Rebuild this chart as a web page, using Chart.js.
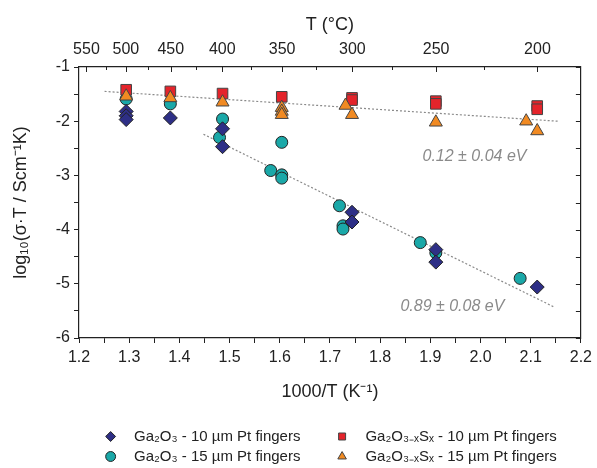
<!DOCTYPE html>
<html>
<head>
<meta charset="utf-8">
<script src="https://cdn.jsdelivr.net/npm/chart.js@4"></script>
<style>
  html, body { margin: 0; padding: 0; background: #fff; }
</style>
</head>
<body>
<canvas id="chart1" width="597" height="468"></canvas>
<script>
// --- data ---
var seriesLabels = [
  'Ga₂O₃ - 10 µm Pt fingers',
  'Ga₂O₃₋ₓSₓ - 10 µm Pt fingers',
  'Ga₂O₃ - 15 µm Pt fingers',
  'Ga₂O₃₋ₓSₓ - 15 µm Pt fingers'
];

// Ga2O3 10 um (diamonds)
var ga10x = [1.294, 1.294, 1.294, 1.382, 1.486, 1.486, 1.744, 1.744, 1.911, 1.911, 2.113];
var ga10y = [-1.82, -1.90, -1.97, -1.94, -2.14, -2.47, -3.68, -3.86, -4.37, -4.60, -5.06];

// Ga2O3-xSx 10 um (squares)
var gs10x = [1.294, 1.382, 1.486, 1.604, 1.744, 1.744, 1.911, 1.911, 2.113, 2.113];
var gs10y = [-1.42, -1.45, -1.49, -1.55, -1.57, -1.61, -1.63, -1.68, -1.72, -1.78];

// Ga2O3 15 um (circles)
var ga15x = [1.294, 1.382, 1.486, 1.480, 1.582, 1.604, 1.604, 1.604, 1.719, 1.726, 1.726, 1.880, 1.911, 2.079];
var ga15y = [-1.59, -1.68, -1.96, -2.30, -2.91, -2.39, -2.99, -3.05, -3.56, -3.93, -3.99, -4.24, -4.43, -4.90];

// Ga2O3-xSx 15 um (triangles)
var gs15x = [1.294, 1.382, 1.486, 1.604, 1.604, 1.604, 1.731, 1.744, 1.911, 2.091, 2.113];
var gs15y = [-1.54, -1.57, -1.65, -1.75, -1.82, -1.88, -1.71, -1.88, -2.02, -2.00, -2.18];

// Arrhenius fit lines (end points)
var fitSx = [1.251, 2.154];
var fitSy = [-1.45, -2.00];
var fitOx = [1.448, 2.147];
var fitOy = [-2.24, -5.43];

// activation energy labels
var eaText = ['0.12 ± 0.04 eV', '0.89 ± 0.08 eV'];
var eaX = [1.988, 1.944];
var eaY = [-2.66, -5.42];

// top axis temperatures (°C)
var topTemps = [550, 525, 500, 475, 450, 425, 400, 375, 350, 325, 300, 275, 250, 225, 200];

function pts(xs, ys) {
  return xs.map(function (x, i) { return {x: x, y: ys[i]}; });
}

// inward ticks on top/right axes + the Ea labels
var insideTicks = {
  id: 'insideTicks',
  afterDraw: function (chart) {
    var ctx = chart.ctx;
    var a = chart.chartArea;
    var top = chart.scales.xTop;
    var right = chart.scales.yRight;
    ctx.save();
    ctx.strokeStyle = '#222';
    ctx.lineWidth = 1;
    ctx.beginPath();
    top.ticks.forEach(function (t, i) {
      var x = Math.round(top.getPixelForValue(t.value)) + 0.5;
      var len = topTemps[i] % 50 === 0 ? 5 : 3;
      ctx.moveTo(x, a.top);
      ctx.lineTo(x, a.top + len);
    });
    right.ticks.forEach(function (t) {
      var y = Math.round(right.getPixelForValue(t.value)) + 0.5;
      ctx.moveTo(a.right, y);
      ctx.lineTo(a.right - 5, y);
    });
    ctx.stroke();

    var xs = chart.scales.x, ys = chart.scales.y;
    ctx.font = 'italic 16px "Liberation Sans", Arial, sans-serif';
    ctx.fillStyle = '#8a8a8a';
    ctx.textAlign = 'center';
    ctx.textBaseline = 'middle';
    eaText.forEach(function (t, i) {
      ctx.fillText(t, xs.getPixelForValue(eaX[i]), ys.getPixelForValue(eaY[i]));
    });
    ctx.restore();
  }
};

var font = '"Liberation Sans", Arial, sans-serif';
Chart.defaults.font.family = font;
Chart.defaults.color = '#222';

var chart1 = new Chart('chart1', {
  type: 'scatter',
  plugins: [insideTicks],
  data: {
    datasets: [
      {label: seriesLabels[0], data: pts(ga10x, ga10y), pointStyle: 'rectRot', pointRadius: 7,
        backgroundColor: '#2e2f86', borderColor: '#222', borderWidth: 1, order: 2},
      {label: seriesLabels[1], data: pts(gs10x, gs10y), pointStyle: 'rect', pointRadius: 7.5,
        backgroundColor: '#e4242b', borderColor: '#444', borderWidth: 1, order: 3},
      {label: seriesLabels[2], data: pts(ga15x, ga15y), pointStyle: 'circle', pointRadius: 6,
        backgroundColor: '#1aa8a8', borderColor: '#222', borderWidth: 1, order: 4},
      {label: seriesLabels[3], data: pts(gs15x, gs15y), pointStyle: 'triangle', pointRadius: 7.5,
        backgroundColor: '#f18a22', borderColor: '#444', borderWidth: 1, order: 1},
      {label: 'fit', type: 'line', data: pts(fitSx, fitSy), borderColor: '#8a8a8a', borderWidth: 1.2,
        borderDash: [2, 2], pointRadius: 0, order: 10},
      {label: 'fit', type: 'line', data: pts(fitOx, fitOy), borderColor: '#8a8a8a', borderWidth: 1.2,
        borderDash: [2, 2], pointRadius: 0, order: 10}
    ]
  },
  options: {
    responsive: false,
    animation: false,
    layout: {padding: 0},
    plugins: {
      tooltip: {enabled: false},
      legend: {
        position: 'bottom',
        fullSize: false,
        maxHeight: 44,
        labels: {
          usePointStyle: true,
          boxWidth: 15,
          boxHeight: 7,
          padding: 5,
          color: '#222',
          font: {size: 15},
          filter: function (item) { return item.text !== 'fit'; },
          sort: function (a, b) { return a.datasetIndex - b.datasetIndex; },
          generateLabels: function (chart) {
            var items = Chart.defaults.plugins.legend.labels.generateLabels(chart);
            items.forEach(function (it) {
              if (it.text === 'fit') return;
              it.text = '  ' + it.text + (it.datasetIndex % 2 === 0 ? '       ' : '');
            });
            return items;
          }
        }
      }
    },
    scales: {
      x: {
        type: 'linear', position: 'bottom', min: 1.2, max: 2.2,
        afterFit: function (s) { s.height = 86; },
        ticks: {
          stepSize: 0.05, autoSkip: false, maxRotation: 0, padding: 5,
          font: {size: 16}, color: '#222',
          callback: function (v) {
            return Math.abs(v * 10 - Math.round(v * 10)) < 1e-6 ? v.toFixed(1) : '';
          }
        },
        grid: {drawOnChartArea: false, tickLength: 5, color: '#222'},
        border: {color: '#222', width: 1.2},
        title: {display: true, text: '1000/T (K⁻¹)', font: {size: 18}, color: '#222',
          padding: {top: 4, bottom: 21}}
      },
      xTop: {
        type: 'linear', position: 'top', min: 1.2, max: 2.2,
        afterFit: function (s) { s.height = 67; },
        afterBuildTicks: function (s) {
          s.ticks = topTemps.map(function (t) { return {value: 1000 / (t + 273.15)}; });
        },
        ticks: {
          autoSkip: false, maxRotation: 0, padding: 8, font: {size: 16}, color: '#222',
          callback: function (v, i) { return topTemps[i] % 50 === 0 ? String(topTemps[i]) : ''; }
        },
        grid: {drawOnChartArea: false, drawTicks: false},
        border: {color: '#222', width: 1.2},
        title: {display: true, text: 'T (°C)', font: {size: 18}, color: '#222',
          padding: {top: 14, bottom: 0}}
      },
      y: {
        type: 'linear', position: 'left', min: -6, max: -1,
        afterFit: function (s) { s.width = 79; },
        ticks: {
          stepSize: 0.5, autoSkip: false, padding: 4, font: {size: 16}, color: '#222',
          callback: function (v) { return Number.isInteger(v) ? String(v) : ''; }
        },
        grid: {drawOnChartArea: false, tickLength: 5, color: '#222'},
        border: {color: '#222', width: 1.2},
        title: {display: true, text: 'log₁₀(σ·T / Scm⁻¹K)', font: {size: 18}, color: '#222',
          padding: {top: 10, bottom: 0}}
      },
      yRight: {
        type: 'linear', position: 'right', min: -6, max: -1,
        afterFit: function (s) { s.width = 14; },
        ticks: {display: false, stepSize: 0.5},
        grid: {drawOnChartArea: false, drawTicks: false},
        border: {color: '#222', width: 1.2}
      }
    }
  }
});
</script>
</body>
</html>
